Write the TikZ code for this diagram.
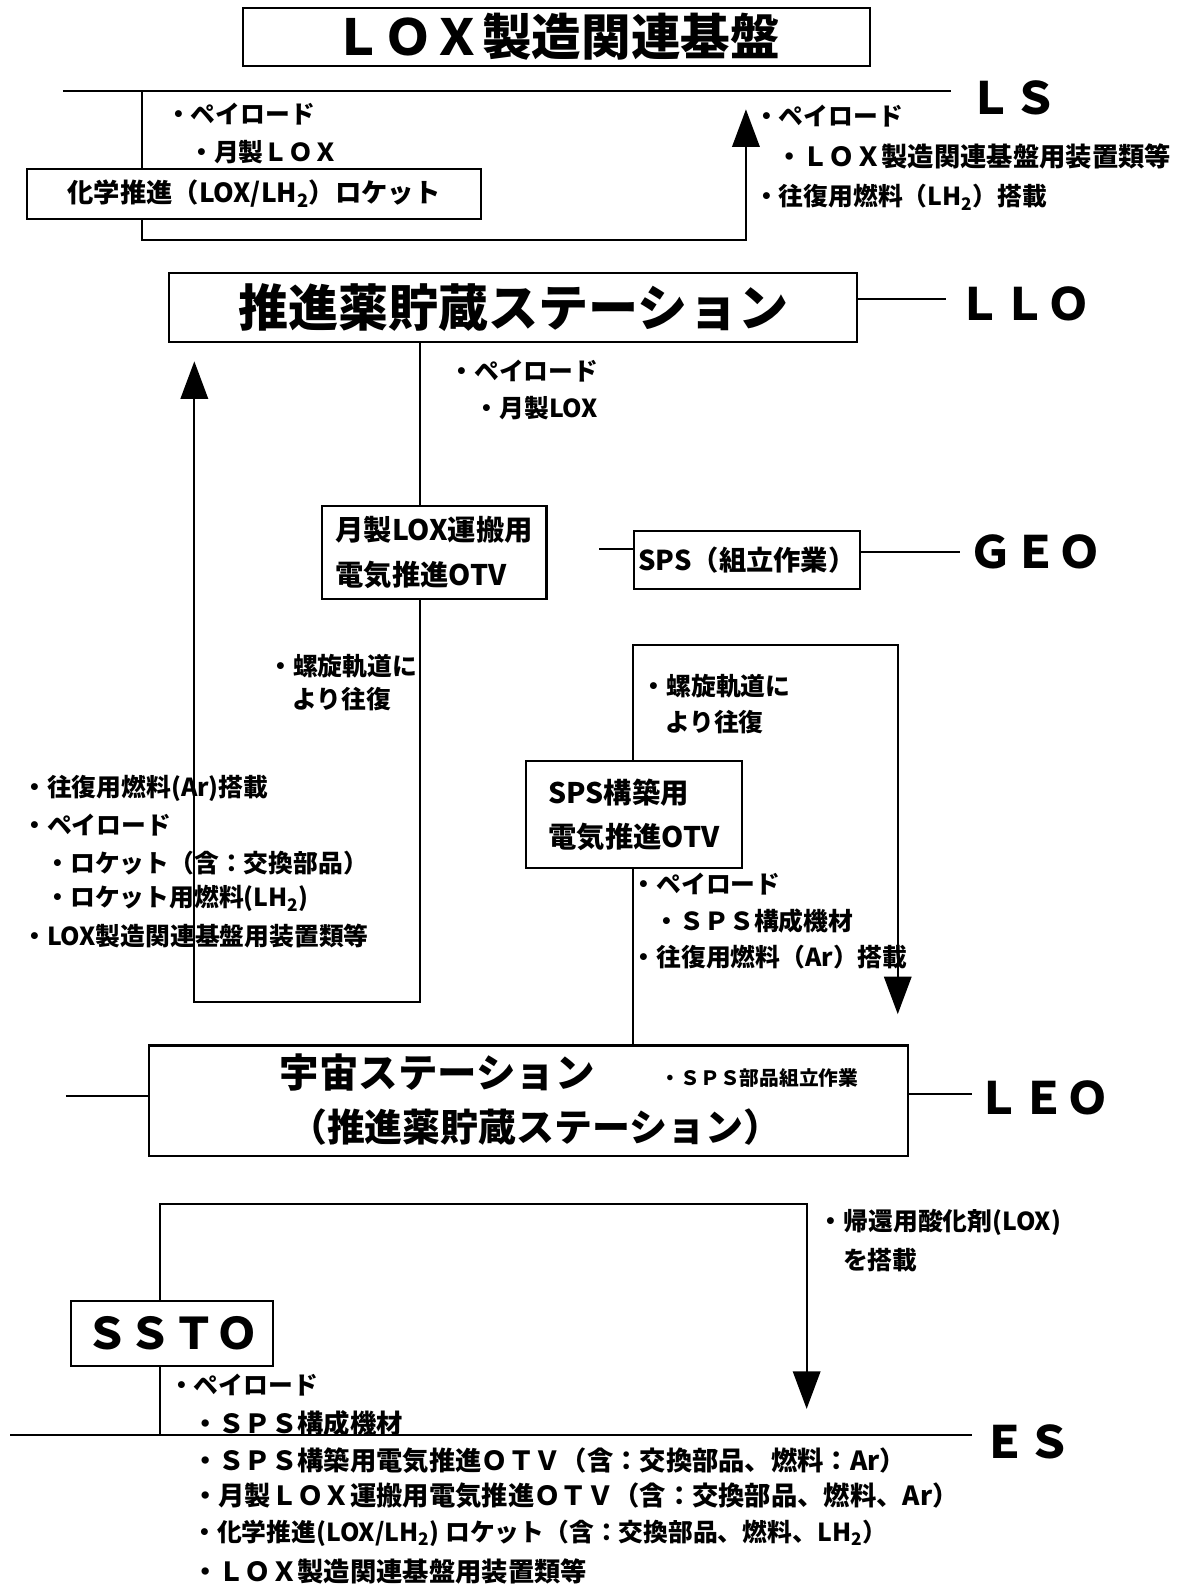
\documentclass[tikz,border=0pt]{standalone}
\usepackage{fontspec}
\setmainfont{Noto Sans CJK JP}
\usetikzlibrary{arrows.meta}
\begin{document}
\begin{tikzpicture}[x=1pt,y=-1pt, line width=2.1pt,
 box/.style={draw, fill=white, inner sep=0pt, line width=2.1pt},
 lbl/.style={anchor=west, inner sep=0pt, font=\fontsize{24.5}{24.5}\selectfont\bfseries},
 wide/.style={anchor=west, inner sep=0pt, font=\fontsize{26}{26}\selectfont\bfseries},
 small/.style={anchor=west, inner sep=0pt, font=\fontsize{19.5}{19.5}\selectfont\bfseries},
 orbit/.style={anchor=west, inner sep=0pt, font=\fontsize{44}{44}\selectfont\bfseries},
 arr/.style={-{Triangle[width=27pt,length=37pt]}}]
\useasboundingbox (0,0) rectangle (1175,1568);

% ---------- LS level ----------
\coordinate (lsL) at (62,90);
\coordinate (lsR) at (940,90);
\draw (lsL) -- (lsR);
\node[orbit] (LS) at (956,97) {ＬＳ};
\coordinate (lsDown) at (140,90);
\coordinate (lsLoop) at (140,237);
\coordinate (lsTip) at (737,108);
\draw[arr] (lsDown) -- (lsLoop) -| (lsTip);

\node[box, minimum width=620pt, minimum height=57pt, font=\fontsize{49}{49}\selectfont\bfseries] (title) at (550,36.5) {ＬＯＸ製造関連基盤};
\node[box, minimum width=448pt, minimum height=49pt, font=\fontsize{26}{26}\selectfont\bfseries] (rocket) at (251,191.5) {化学推進（LOX/LH\textsubscript{2}）ロケット};

\node[lbl] (l1) at (163,113) {・ペイロード};
\node[lbl] (l2) at (186,150) {・月製ＬＯＸ};
\node[lbl] (l3) at (744,115) {・ペイロード};
\node[wide] (l4) at (766,155) {・ＬＯＸ製造関連基盤用装置類等};
\node[lbl] (l5) at (744,195) {・往復用燃料（LH\textsubscript{2}）搭載};

% ---------- LLO level ----------
\node[box, minimum width=680pt, minimum height=68pt, font=\fontsize{49.5}{49.5}\selectfont\bfseries] (llo) at (507,304) {推進薬貯蔵ステーション};
\coordinate (lloR) at (935,295);
\draw (llo.east |- lloR) -- (lloR);
\node[orbit] (LLO) at (945,300) {ＬＬＯ};

\node[box, minimum width=222pt, minimum height=92pt, align=left, font=\fontsize{28}{44}\selectfont\bfseries] (otv1) at (429,546) {月製LOX運搬用\\電気推進OTV};
\coordinate (lloDown) at (415,338);
\draw (lloDown) -- (lloDown |- otv1.north);
\coordinate (leftLoop) at (415,990);
\coordinate (leftTip) at (192,357);
\draw[arr] (otv1.south -| leftLoop) -- (leftLoop) -| (leftTip);

\node[lbl] (l6) at (443,367) {・ペイロード};
\node[lbl] (l7) at (468,403) {・月製LOX};
\node[lbl] (l8) at (264,658) {・螺旋軌道に};
\node[lbl] (l9) at (288,691) {より往復};

\node[lbl] (a1) at (21,779) {・往復用燃料(Ar)搭載};
\node[lbl] (a2) at (21,815) {・ペイロード};
\node[lbl] (a3) at (44,853) {・ロケット（含：交換部品）};
\node[lbl] (a4) at (44,888) {・ロケット用燃料(LH\textsubscript{2})};
\node[lbl] (a5) at (21,925) {・LOX製造関連基盤用装置類等};

% ---------- GEO level ----------
\node[box, minimum width=224pt, minimum height=57pt, font=\fontsize{27}{27}\selectfont\bfseries] (sps) at (738,553.5) {SPS（組立作業）};
\coordinate (stub) at (592,542);
\draw (stub) -- (stub -| sps.west);
\coordinate (geoR) at (948,545);
\draw (sps.east |- geoR) -- (geoR);
\node[orbit] (GEO) at (956,545) {ＧＥＯ};

% ---------- right loop ----------
\coordinate (rTop) at (625,637);
\coordinate (rTip) at (887,1002);
\node[box, minimum width=750pt, minimum height=109pt] (leo) at (522.5,1087.5) {};
\draw[arr] (leo.north -| rTop) -- (rTop) -| (rTip);
\node[box, minimum width=213pt, minimum height=106pt, align=left, font=\fontsize{28}{44}\selectfont\bfseries] (otv2) at (626.5,805) {SPS構築用\\電気推進OTV};

\node[lbl] (r1) at (633,678) {・螺旋軌道に};
\node[lbl] (r2) at (656,713) {より往復};
\node[lbl] (r3) at (623,873) {・ペイロード};
\node[lbl] (r4) at (646,910) {・ＳＰＳ構成機材};
\node[lbl] (r5) at (623,946) {・往復用燃料（Ar）搭載};

% ---------- LEO level ----------
\node[inner sep=0pt, font=\fontsize{39}{39}\selectfont\bfseries] (leo1) at (432,1060) {宇宙ステーション};
\node[inner sep=0pt, font=\fontsize{37.5}{37.5}\selectfont\bfseries] (leo2) at (529,1114) {（推進薬貯蔵ステーション）};
\node[small] (leo3) at (652,1065) {・ＳＰＳ部品組立作業};
\coordinate (leoL) at (65,1083);
\coordinate (leoR) at (960,1081);
\draw (leoL) -- (leoL -| leo.west);
\draw (leo.east |- leoR) -- (leoR);
\node[orbit] (LEO) at (964,1085) {ＬＥＯ};

% ---------- ES level ----------
\node[box, minimum width=200pt, minimum height=65pt, font=\fontsize{43}{43}\selectfont\bfseries] (ssto) at (170,1317.5) {ＳＳＴＯ};
\coordinate (sTop) at (158,1190);
\coordinate (sTip) at (797,1392);
\draw[arr] (ssto.north -| sTop) -- (sTop) -| (sTip);
\coordinate (esL) at (10,1418);
\coordinate (esR) at (960,1418);
\draw (esL) -- (esR);
\draw (ssto.south -| sTop) -- (sTop |- esL);
\node[orbit] (ES) at (970,1425) {ＥＳ};

\node[lbl] (e1) at (808,1208) {・帰還用酸化剤(LOX)};
\node[lbl] (e2) at (832,1245) {を搭載};

\node[lbl] (b1) at (166,1368) {・ペイロード};
\node[wide] (b2) at (189,1406) {・ＳＰＳ構成機材};
\node[wide] (b3) at (189,1443) {・ＳＰＳ構築用電気推進ＯＴＶ（含：交換部品、燃料：Ar）};
\node[wide] (b4) at (189,1478) {・月製ＬＯＸ運搬用電気推進ＯＴＶ（含：交換部品、燃料、Ar）};
\node[lbl] (b5) at (189,1515) {・化学推進(LOX/LH\textsubscript{2}) ロケット（含：交換部品、燃料、LH\textsubscript{2}）};
\node[wide] (b6) at (189,1553) {・ＬＯＸ製造関連基盤用装置類等};
\end{tikzpicture}
\end{document}
